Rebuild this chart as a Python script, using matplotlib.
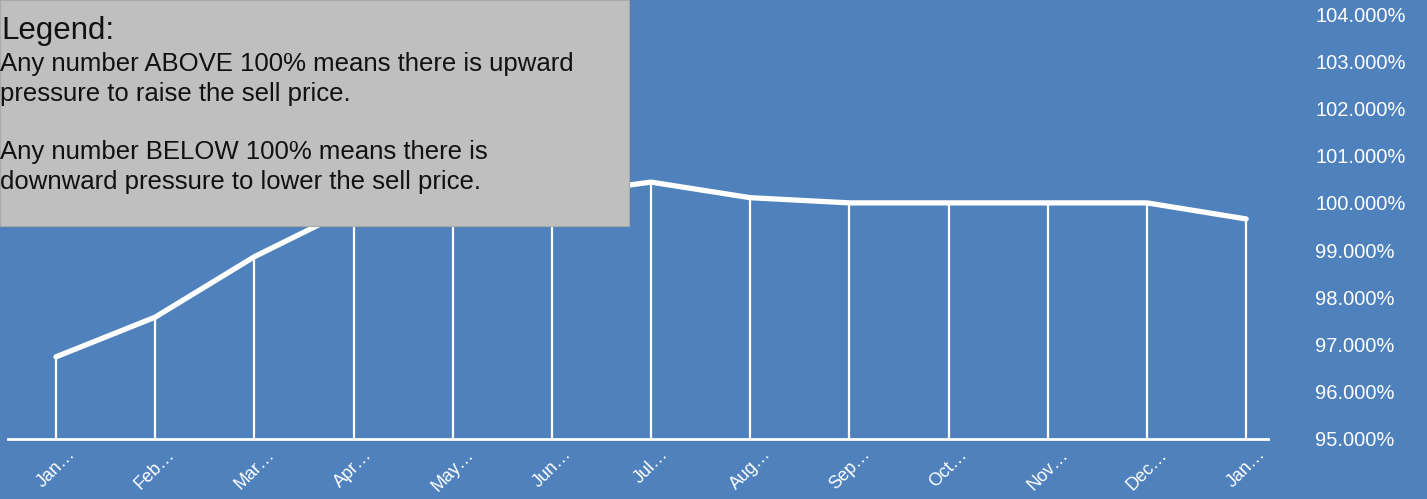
import matplotlib
matplotlib.use('Agg')
from matplotlib import pyplot as plt
from matplotlib.patches import Rectangle

plt.rcParams['font.family'] = ['Liberation Sans', 'DejaVu Sans']

months = ['Jan…', 'Feb…', 'Mar…', 'Apr…', 'May…', 'Jun…', 'Jul…',
          'Aug…', 'Sep…', 'Oct…', 'Nov…', 'Dec…', 'Jan…']
ratio = [96.74, 97.58, 98.86, 99.90, 100.10, 100.16, 100.44,
         100.11, 100.00, 100.00, 100.00, 100.00, 99.66]
y_ticks = [95, 96, 97, 98, 99, 100, 101, 102, 103, 104]

legend_title = 'Legend:'
legend_lines = ['Any number ABOVE 100% means there is upward',
                'pressure to raise the sell price.',
                '',
                'Any number BELOW 100% means there is',
                'downward pressure to lower the sell price.']

BG = '#4f81bd'
W, H = 1427, 499

fig = plt.figure(figsize=(W / 100, H / 100), dpi=100)
fig.patch.set_facecolor(BG)

# axes box in pixels: left 8, right 1268, bottom 439, top 14
ax = fig.add_axes([8 / W, 1 - 439 / H, (1268 - 8) / W, (439 - 14) / H])
ax.set_facecolor(BG)

x = list(range(len(ratio)))
ax.vlines(x, 95, ratio, color='white', lw=1.6, zorder=2)
ax.plot(x, ratio, color='white', lw=3.8, solid_capstyle='round',
        solid_joinstyle='round', zorder=3)

ax.set_xlim(-0.484, 12.22)
ax.set_ylim(95, 104)

for side in ['top', 'left', 'right']:
    ax.spines[side].set_visible(False)
ax.spines['bottom'].set_color('white')
ax.spines['bottom'].set_linewidth(2)

ax.set_xticks(x)
ax.set_xticklabels(months, rotation=45, ha='center', fontsize=13, color='white')
ax.tick_params(axis='x', length=0, pad=5)

ax.yaxis.tick_right()
ax.set_yticks(y_ticks)
ax.set_yticklabels(['{:.3f}%'.format(v) for v in y_ticks], fontsize=14.5, color='white')
ax.tick_params(axis='y', length=0, pad=34)

# grey legend panel in the top-left corner
fig.add_artist(Rectangle((0, 1 - 226 / H), 629 / W, 226 / H,
                         transform=fig.transFigure, facecolor='#bfbfbf',
                         edgecolor='#a9a9a9', lw=0.8, zorder=5))
fig.text(1 / W, 1 - 39 / H, legend_title, fontsize=22.5, color='#111111',
         va='baseline', ha='left', zorder=6)
line_y = [71, 100.5, 130, 159.5, 189]
for txt, yy in zip(legend_lines, line_y):
    if txt:
        fig.text(0, 1 - yy / H, txt, fontsize=18.5, color='#111111',
                 va='baseline', ha='left', zorder=6)

fig.savefig('out.png', dpi=100, facecolor=BG)
